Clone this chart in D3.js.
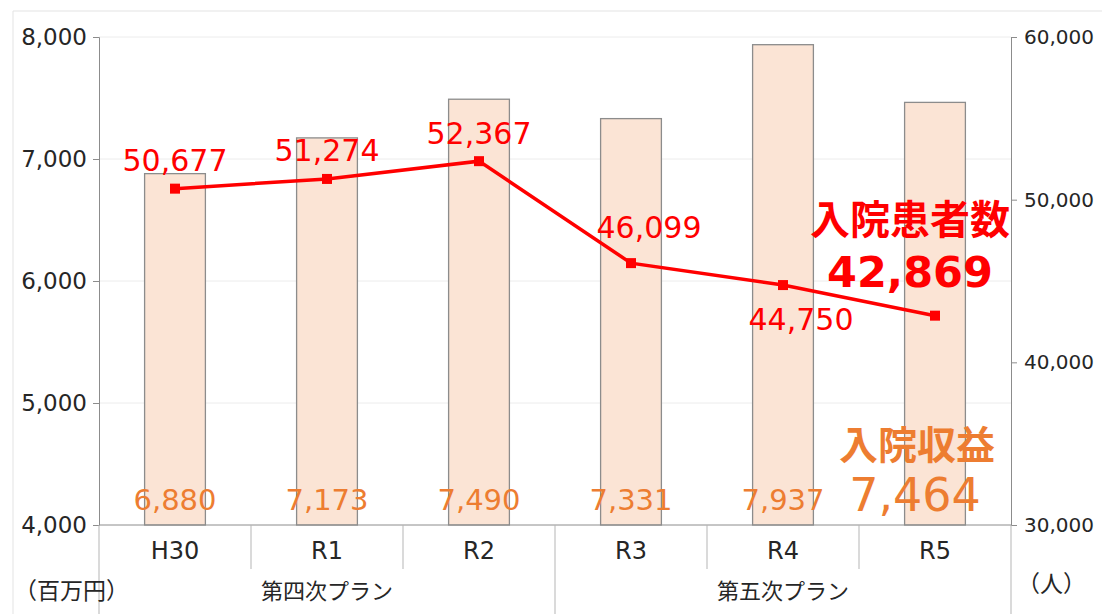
<!DOCTYPE html>
<html>
<head>
<meta charset="utf-8">
<script src="https://cdn.jsdelivr.net/npm/d3@7"></script>
<style>
  body { margin: 0; background: #fff; }
  svg { display: block; font-family: "DejaVu Sans", sans-serif; }
  .jp { font-family: "Noto Sans CJK JP", sans-serif; }
</style>
</head>
<body>
<div class="chart"></div>
<script>
var categories = ["H30", "R1", "R2", "R3", "R4", "R5"];
var groups = ["第四次プラン", "第五次プラン"];
var revenue = [6880, 7173, 7490, 7331, 7937, 7464];       // 入院収益（百万円）
var patients = [50677, 51274, 52367, 46099, 44750, 42869]; // 入院患者数（人）
var leftTicks = [4000, 5000, 6000, 7000, 8000];
var rightTicks = [30000, 40000, 50000, 60000];

var w = 1102, h = 614;
var m = { left: 99, right: 91, top: 37, bottom: 89 };
var fmt = d3.format(",");

var svg = d3.select(".chart").append("svg")
    .attr("width", w)
    .attr("height", h);

// outer frame
svg.append("path")
    .attr("d", "M13," + h + "V11H" + w)
    .attr("fill", "none")
    .attr("stroke", "#e3e3e3");

var x = d3.scaleBand()
    .domain(categories)
    .range([m.left, w - m.right]);

var yL = d3.scaleLinear().domain([4000, 8000]).range([h - m.bottom, m.top]);
var yR = d3.scaleLinear().domain([30000, 60000]).range([h - m.bottom, m.top]);

// grid
svg.append("g")
    .selectAll("line")
    .data(leftTicks.slice(1))
    .enter()
    .append("line")
    .attr("x1", m.left).attr("x2", w - m.right)
    .attr("y1", function(d) { return yL(d); })
    .attr("y2", function(d) { return yL(d); })
    .attr("stroke", "#ececec");

// bars
svg.append("g")
    .selectAll("rect")
    .data(revenue)
    .enter()
    .append("rect")
    .attr("x", function(d, i) { return x(categories[i]) + x.bandwidth() * 0.3; })
    .attr("width", x.bandwidth() * 0.4)
    .attr("y", function(d) { return yL(d); })
    .attr("height", function(d) { return yL(4000) - yL(d); })
    .attr("fill", "#fbe4d5")
    .attr("stroke", "#8c8c8c")
    .attr("stroke-width", 1.3);

// left axis
var axL = svg.append("g")
    .attr("transform", "translate(" + m.left + ",0)")
    .call(d3.axisLeft(yL).tickValues(leftTicks).tickFormat(fmt).tickSize(6).tickPadding(6));
axL.select(".domain").attr("stroke", "#8c8c8c");
axL.selectAll(".tick line").attr("stroke", "#8c8c8c");
axL.selectAll("text").attr("font-size", 23).attr("fill", "#262626")
    .attr("font-family", "DejaVu Sans");

// right axis
var axR = svg.append("g")
    .attr("transform", "translate(" + (w - m.right) + ",0)")
    .call(d3.axisRight(yR).tickValues(rightTicks).tickFormat(fmt).tickSize(6).tickPadding(7));
axR.select(".domain").attr("stroke", "#8c8c8c");
axR.selectAll(".tick line").attr("stroke", "#8c8c8c");
axR.selectAll("text").attr("font-size", 20).attr("fill", "#262626")
    .attr("font-family", "DejaVu Sans");

// category axis
var base = yL(4000);
var cat = svg.append("g").attr("stroke", "#b5b5b5");
cat.append("line").attr("x1", m.left).attr("x2", w - m.right)
    .attr("y1", base).attr("y2", base).attr("stroke", "#8c8c8c");
categories.forEach(function(c, i) {
    var full = (i === 0 || i === 3);
    cat.append("line")
        .attr("x1", x(c)).attr("x2", x(c))
        .attr("y1", base).attr("y2", full ? h : base + 44);
});
cat.append("line")
    .attr("x1", w - m.right).attr("x2", w - m.right)
    .attr("y1", base).attr("y2", h);

svg.append("g")
    .selectAll("text")
    .data(categories)
    .enter()
    .append("text")
    .attr("x", function(d) { return x(d) + x.bandwidth() / 2; })
    .attr("y", base + 34)
    .attr("text-anchor", "middle")
    .attr("font-size", 24)
    .attr("fill", "#262626")
    .text(function(d) { return d; });

svg.append("g")
    .selectAll("text")
    .data(groups)
    .enter()
    .append("text")
    .attr("class", "jp")
    .attr("x", function(d, i) { return x(categories[i * 3]) + x.bandwidth() * 1.5; })
    .attr("y", base + 74)
    .attr("text-anchor", "middle")
    .attr("font-size", 22)
    .attr("fill", "#262626")
    .text(function(d) { return d; });

svg.append("text").attr("class", "jp").attr("x", 14).attr("y", base + 74)
    .attr("font-size", 23).attr("fill", "#262626").text("（百万円）");
svg.append("text").attr("class", "jp").attr("x", 1017).attr("y", base + 67)
    .attr("font-size", 23).attr("fill", "#262626").text("（人）");

// bar value labels
svg.append("g")
    .selectAll("text")
    .data(revenue.slice(0, 5))
    .enter()
    .append("text")
    .attr("x", function(d, i) { return x(categories[i]) + x.bandwidth() / 2; })
    .attr("y", base - 15)
    .attr("text-anchor", "middle")
    .attr("font-size", 29)
    .attr("fill", "#ed7d31")
    .text(function(d) { return fmt(d); });

// line
var cx = function(d, i) { return x(categories[i]) + x.bandwidth() / 2; };
var line = d3.line()
    .x(cx)
    .y(function(d) { return yR(d); });

svg.append("path")
    .datum(patients)
    .attr("d", line)
    .attr("fill", "none")
    .attr("stroke", "#ff0000")
    .attr("stroke-width", 3.5);

svg.append("g")
    .selectAll("rect")
    .data(patients)
    .enter()
    .append("rect")
    .attr("x", function(d, i) { return cx(d, i) - 5; })
    .attr("y", function(d) { return yR(d) - 5; })
    .attr("width", 10).attr("height", 10)
    .attr("fill", "#ff0000");

// line value labels (last one is the big callout)
var dx = [0, 0, 0, 18, 18];
var dy = [-18, -18, -17, -25, 45];
svg.append("g")
    .selectAll("text")
    .data(patients.slice(0, 5))
    .enter()
    .append("text")
    .attr("x", function(d, i) { return cx(d, i) + dx[i]; })
    .attr("y", function(d, i) { return yR(d) + dy[i]; })
    .attr("text-anchor", "middle")
    .attr("font-size", 30)
    .attr("fill", "#ff0000")
    .text(function(d) { return fmt(d); });

// callouts for R5
var last = categories.length - 1;
var xc = cx(null, last) - 25;
svg.append("text").attr("class", "jp").attr("x", xc).attr("y", 234)
    .attr("text-anchor", "middle").attr("font-size", 40).attr("font-weight", "bold")
    .attr("fill", "#ff0000").text("入院患者数");
svg.append("text").attr("x", xc).attr("y", 287)
    .attr("text-anchor", "middle").attr("font-size", 43).attr("font-weight", "bold")
    .attr("fill", "#ff0000").text(fmt(patients[last]));
svg.append("text").attr("class", "jp").attr("x", xc + 7).attr("y", 459)
    .attr("text-anchor", "middle").attr("font-size", 39).attr("font-weight", "bold")
    .attr("fill", "#ed7d31").text("入院収益");
svg.append("text").attr("x", xc + 5).attr("y", 511)
    .attr("text-anchor", "middle").attr("font-size", 46)
    .attr("fill", "#ed7d31").text(fmt(revenue[last]));
</script>
</body>
</html>
